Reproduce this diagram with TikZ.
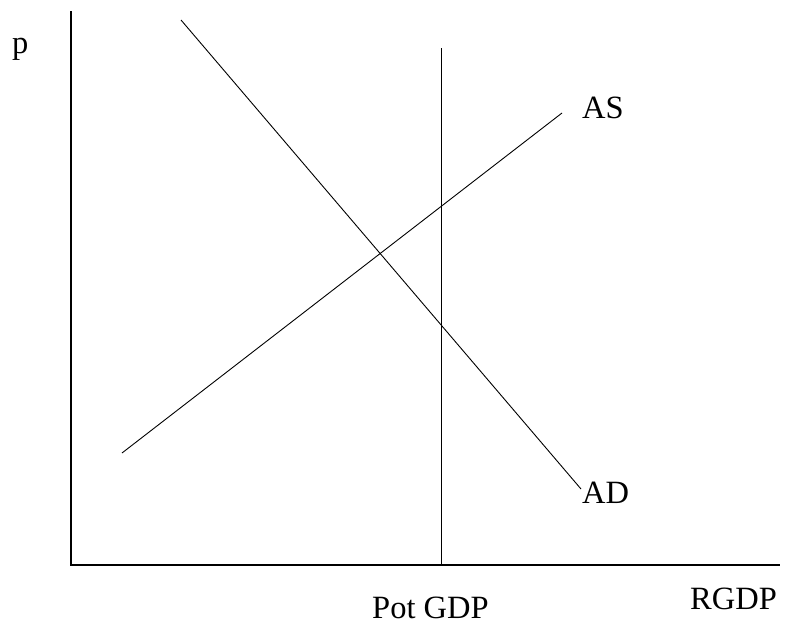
\documentclass[tikz,border=0pt]{standalone}
\usepackage{fontspec}
\setmainfont{Liberation Serif}
\begin{document}
\begin{tikzpicture}[x=1pt,y=-1pt,
  lbl/.style={anchor=base west,inner sep=0pt,font=\fontsize{32.5}{36}\selectfont},
  curve/.style={line width=0.9pt,black}]
\useasboundingbox (0,0) rectangle (787,624);
\coordinate (o) at (71,565);
\coordinate (ytop) at (71,11);
\coordinate (xend) at (780,565);
\coordinate (pottop) at (441,48);
\coordinate (potbot) at (441,565);
\coordinate (ad1) at (181,20);
\coordinate (ad2) at (581,489);
\coordinate (as1) at (122,453);
\coordinate (as2) at (562,113);
\draw[curve,line width=1.1pt] (ytop) -- (o) -- (xend);
\draw[curve] (pottop) -- (potbot);
\draw[curve] (ad1) -- (ad2);
\draw[curve] (as1) -- (as2);
\node[lbl] (p) at (12,53) {p};
\node[lbl] (as) at (582,118) {AS};
\node[lbl] (ad) at (582,503) {AD};
\node[lbl] (pot) at (372,618) {Pot GDP};
\node[lbl] (rgdp) at (690,609) {RGDP};
\end{tikzpicture}
\end{document}
